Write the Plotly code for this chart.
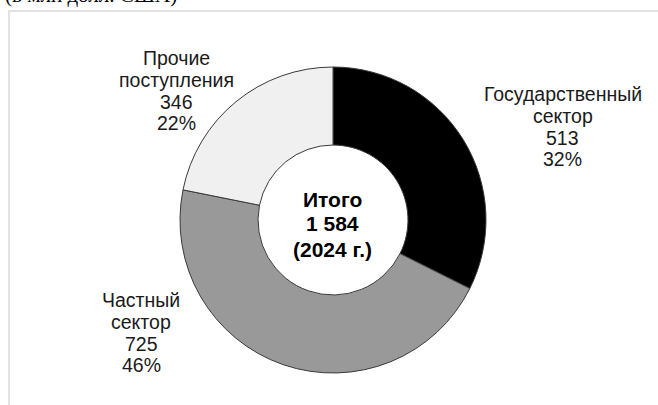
import plotly.graph_objects as go

# ---- data ----
categories = ["Государственный сектор", "Частный сектор", "Прочие поступления"]
values = [513, 725, 346]
colors = ["#000000", "#999999", "#f0f0f0"]
center_title = "Итого"
center_year = "(2024 г.)"
unit_note = "(в млн долл. США)"

W, H = 658, 405
total = sum(values)
percents = [round(v / total * 100) for v in values]


def px(x):
    return x / W


def py(y):
    return 1 - y / H


# pie geometry (pixels)
cx, cy, R = 333, 220, 153

fig = go.Figure()
fig.add_trace(go.Pie(
    labels=categories,
    values=values,
    marker=dict(colors=colors, line=dict(color="#3a3a3a", width=1)),
    hole=0.49,
    sort=False,
    direction="clockwise",
    rotation=0,
    textinfo="none",
    hoverinfo="label+value+percent",
    showlegend=False,
    domain=dict(x=[px(cx - R), px(cx + R)], y=[py(cy + R), py(cy - R)]),
))

annotations = []
font_lbl = dict(family="Liberation Sans, Arial, sans-serif", size=19.5, color="#1a1a1a")
font_ctr = dict(family="Liberation Sans, Arial, sans-serif", size=21, color="#000000")

# label anchor (center x, first line center y) and line step for each slice
label_pos = [(562.5, 94), (141, 300), (176, 58)]
step = 21.8
for name, v, p, (lx, ly) in zip(categories, values, percents, label_pos):
    lines = name.split(" ") + [f"{v}", f"{p}%"]
    for i, t in enumerate(lines):
        annotations.append(dict(
            x=px(lx), y=py(ly + i * step), xref="paper", yref="paper",
            text=t, showarrow=False, xanchor="center", yanchor="middle",
            font=font_lbl,
        ))

center_lines = [center_title, f"{total:,}".replace(",", " "), center_year]
for i, t in enumerate(center_lines):
    annotations.append(dict(
        x=px(cx - 1), y=py(199 + i * 25), xref="paper", yref="paper",
        text=f"<b>{t}</b>", showarrow=False, xanchor="center", yanchor="middle",
        font=font_ctr,
    ))

# cut-off unit note at top (only its lower part is visible, as in the reference)
annotations.append(dict(
    x=px(3), y=py(-5), xref="paper", yref="paper",
    text=unit_note, showarrow=False, xanchor="left", yanchor="middle",
    font=dict(family="Liberation Serif, Times New Roman, serif", size=21, color="#000000"),
))

shapes = [
    dict(type="line", xref="paper", yref="paper", x0=px(9), x1=px(9), y0=0, y1=py(10),
         line=dict(color="#e3e3e3", width=2)),
    dict(type="line", xref="paper", yref="paper", x0=px(8), x1=1.0, y0=py(11), y1=py(11),
         line=dict(color="#e3e3e3", width=2)),
]

fig.update_layout(
    width=W, height=H,
    margin=dict(l=0, r=0, t=0, b=0),
    paper_bgcolor="#ffffff",
    plot_bgcolor="#ffffff",
    annotations=annotations,
    shapes=shapes,
)

fig.write_html(
    "out.html",
    config={"displayModeBar": False},
    post_script="document.body.style.margin='0';document.body.style.overflow='hidden';",
)
